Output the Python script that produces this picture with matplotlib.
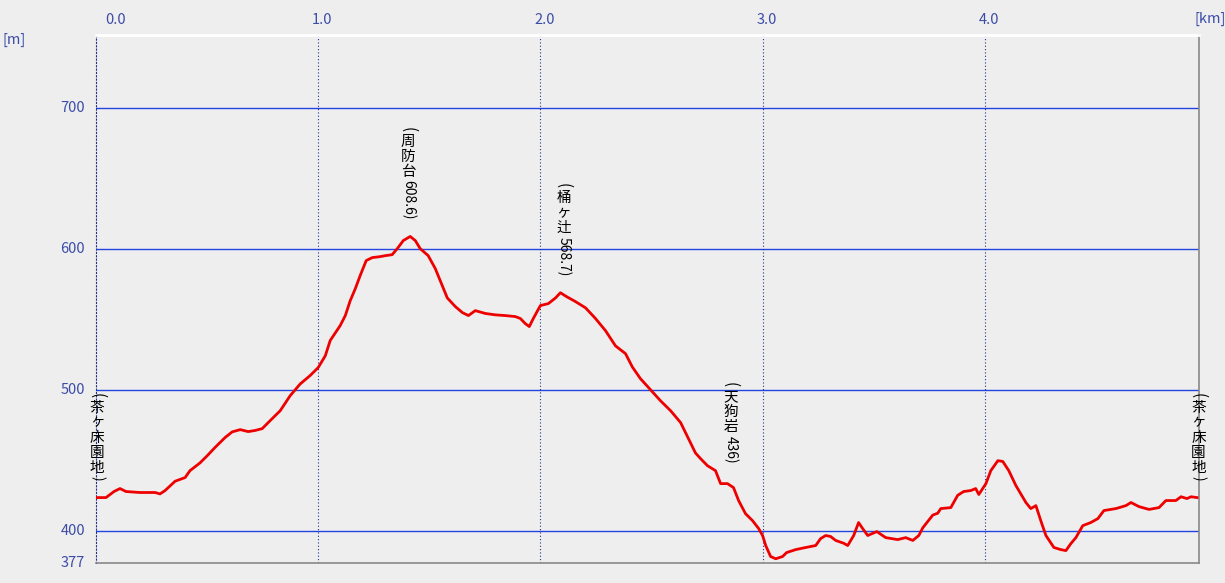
import matplotlib
matplotlib.use("Agg")
import matplotlib.pyplot as plt
import matplotlib.transforms as mtransforms

plt.rcParams['font.family'] = ['Noto Sans CJK JP', 'DejaVu Sans']

# elevation profile, distance [km] / elevation [m]
dist = [0.000, 0.045, 0.081, 0.108, 0.135, 0.198, 0.266, 0.288, 0.311, 0.356,
        0.401, 0.423, 0.468, 0.500, 0.536, 0.581, 0.613, 0.649, 0.685, 0.716,
        0.748, 0.784, 0.829, 0.874, 0.919, 0.964, 1.000, 1.032, 1.054, 1.099,
        1.122, 1.144, 1.167, 1.189, 1.216, 1.243, 1.279, 1.302, 1.333, 1.356,
        1.383, 1.414, 1.437, 1.459, 1.495, 1.527, 1.550, 1.581, 1.617, 1.649,
        1.676, 1.707, 1.752, 1.797, 1.842, 1.887, 1.910, 1.932, 1.950, 1.968,
        2.000, 2.036, 2.068, 2.090, 2.117, 2.158, 2.203, 2.248, 2.293, 2.338,
        2.383, 2.414, 2.450, 2.495, 2.541, 2.586, 2.631, 2.667, 2.698, 2.721,
        2.752, 2.788, 2.811, 2.842, 2.869, 2.892, 2.923, 2.955, 2.982, 3.000,
        3.014, 3.036, 3.059, 3.090, 3.108, 3.149, 3.194, 3.239, 3.261, 3.284,
        3.306, 3.329, 3.365, 3.383, 3.410, 3.432, 3.450, 3.473, 3.514, 3.554,
        3.608, 3.644, 3.676, 3.703, 3.721, 3.766, 3.788, 3.802, 3.847, 3.878,
        3.905, 3.937, 3.959, 3.973, 4.005, 4.027, 4.059, 4.081, 4.108, 4.140,
        4.185, 4.207, 4.230, 4.252, 4.275, 4.311, 4.342, 4.365, 4.387, 4.410,
        4.441, 4.477, 4.509, 4.536, 4.590, 4.635, 4.658, 4.694, 4.739, 4.784,
        4.815, 4.860, 4.883, 4.910, 4.928, 4.955]
elev = [423.4, 423.4, 427.7, 429.8, 427.7, 427.0, 427.0, 426.0, 428.4, 435.0,
        437.6, 442.5, 448.0, 453.0, 459.0, 466.0, 470.0, 471.6, 470.2, 471.0,
        472.3, 478.0, 485.0, 495.7, 504.0, 510.0, 515.6, 524.0, 534.8, 545.4,
        552.5, 563.0, 571.6, 580.9, 591.5, 593.6, 594.3, 595.0, 595.7, 600.0,
        605.7, 608.6, 605.7, 600.0, 595.0, 585.8, 577.0, 565.0, 558.9, 554.6,
        552.5, 556.0, 554.0, 553.0, 552.5, 551.8, 550.4, 546.8, 544.7, 550.4,
        559.6, 561.0, 565.0, 568.7, 566.0, 562.4, 558.0, 550.4, 541.8, 531.0,
        525.5, 516.0, 507.8, 500.0, 492.0, 485.0, 476.6, 465.0, 455.0, 451.0,
        446.0, 442.5, 433.3, 433.3, 430.5, 421.3, 412.0, 407.0, 401.5, 396.5,
        389.4, 381.6, 380.0, 381.6, 384.4, 386.5, 388.0, 389.4, 394.3, 396.5,
        395.8, 393.0, 391.0, 389.4, 396.5, 405.7, 401.5, 396.5, 399.3, 395.0,
        393.6, 395.0, 393.0, 396.5, 402.0, 411.0, 412.3, 415.6, 416.3, 425.0,
        427.7, 428.4, 429.8, 425.6, 433.3, 442.5, 449.6, 449.0, 442.5, 431.9,
        419.9, 415.6, 417.7, 407.0, 396.5, 388.0, 386.5, 385.8, 390.7, 395.0,
        403.5, 405.7, 408.5, 414.2, 415.6, 417.7, 419.9, 417.0, 415.0, 416.3,
        421.3, 421.3, 424.0, 422.7, 424.0, 423.4]

# named points along the route
spot_names = ['茶ヶ床園地', '周防台', '桶ヶ辻', '天狗岩', '茶ヶ床園地']
spot_dist = [0.005, 1.405, 2.104, 2.856, 4.962]
spot_elev = [423.4, 608.6, 568.7, 436.0, 423.4]
spot_label = ['', '608.6', '568.7', '436', '']

x_ticks = [0.0, 1.0, 2.0, 3.0, 4.0]
y_ticks = [400, 500, 600, 700]
y_min, y_max = 377, 751.5
x_max = 4.964

BG = '#eeeeee'
TXT = '#3c4ca8'
fam = ['Noto Sans CJK JP', 'DejaVu Sans']

fig = plt.figure(figsize=(12.25, 5.83), dpi=100, facecolor=BG)
ax = fig.add_axes([96 / 1225, 1 - 563 / 583, 1103 / 1225, 528 / 583])
ax.set_facecolor(BG)
ax.set_xlim(0, x_max)
ax.set_ylim(y_min, y_max)
ax.set_xticks([])
ax.set_yticks([])

for v in y_ticks:
    ax.axhline(v, color='#2444e0', lw=1.0, zorder=1)
for v in x_ticks[1:]:
    ax.axvline(v, color='#203090', lw=0.8, ls=(0, (1, 2)), zorder=1)

ax.spines['left'].set_color('#203090')
ax.spines['left'].set_linestyle((0, (1, 2)))
ax.spines['left'].set_linewidth(0.8)
ax.spines['top'].set_color('white')
ax.spines['top'].set_linewidth(2)
for s in ['right', 'bottom']:
    ax.spines[s].set_color('#888888')
    ax.spines[s].set_linewidth(1.2)

ax.plot(dist, elev, color='#ee0000', lw=2.0, zorder=3)

# axis labels
ytr = mtransforms.blended_transform_factory(ax.transAxes, ax.transData)
ytr = ytr + mtransforms.ScaledTranslation(-11 / 100, 0, fig.dpi_scale_trans)
for v in y_ticks + [y_min]:
    ax.text(0, v, str(v), transform=ytr, ha='right', va='center',
            fontsize=10.5, color=TXT, family=fam)

xtr = mtransforms.blended_transform_factory(ax.transData, fig.transFigure)
for v in x_ticks:
    off = 20 if v == 0 else 4
    t = xtr + mtransforms.ScaledTranslation(off / 100, 0, fig.dpi_scale_trans)
    ax.text(v, 1 - 20.5 / 583, f'{v:.1f}', transform=t, ha='center', va='center',
            fontsize=10.5, color=TXT, family=fam)

fig.text(14 / 1225, 1 - 40 / 583, '[m]', ha='center', va='center',
         fontsize=10.5, color=TXT, family=fam)
fig.text(1210 / 1225, 1 - 19 / 583, '[km]', ha='center', va='center',
         fontsize=10.5, color=TXT, family=fam)

# vertical spot labels, built from the bottom up
renderer = fig.canvas.get_renderer()
gap = 12
for name, x, y, num in zip(spot_names, spot_dist, spot_elev, spot_label):
    # (text, rotated, fontsize, space after)
    pieces = [(num + ')', True, 10, 1), ('\n'.join(name), False, 10.5, 2),
              ('(', True, 11, 0)]
    off = gap
    for s, rot, fs, sp in pieces:
        t = ax.annotate(s, (x, y), xytext=(0, off), textcoords='offset points',
                        rotation=-90 if rot else 0, ha='center', va='bottom',
                        multialignment='center', fontsize=fs, linespacing=1.1,
                        family=fam, color='black', zorder=4)
        off += t.get_window_extent(renderer=renderer).height * 72 / fig.dpi + sp

fig.savefig('out.png', dpi=100, facecolor=BG)
